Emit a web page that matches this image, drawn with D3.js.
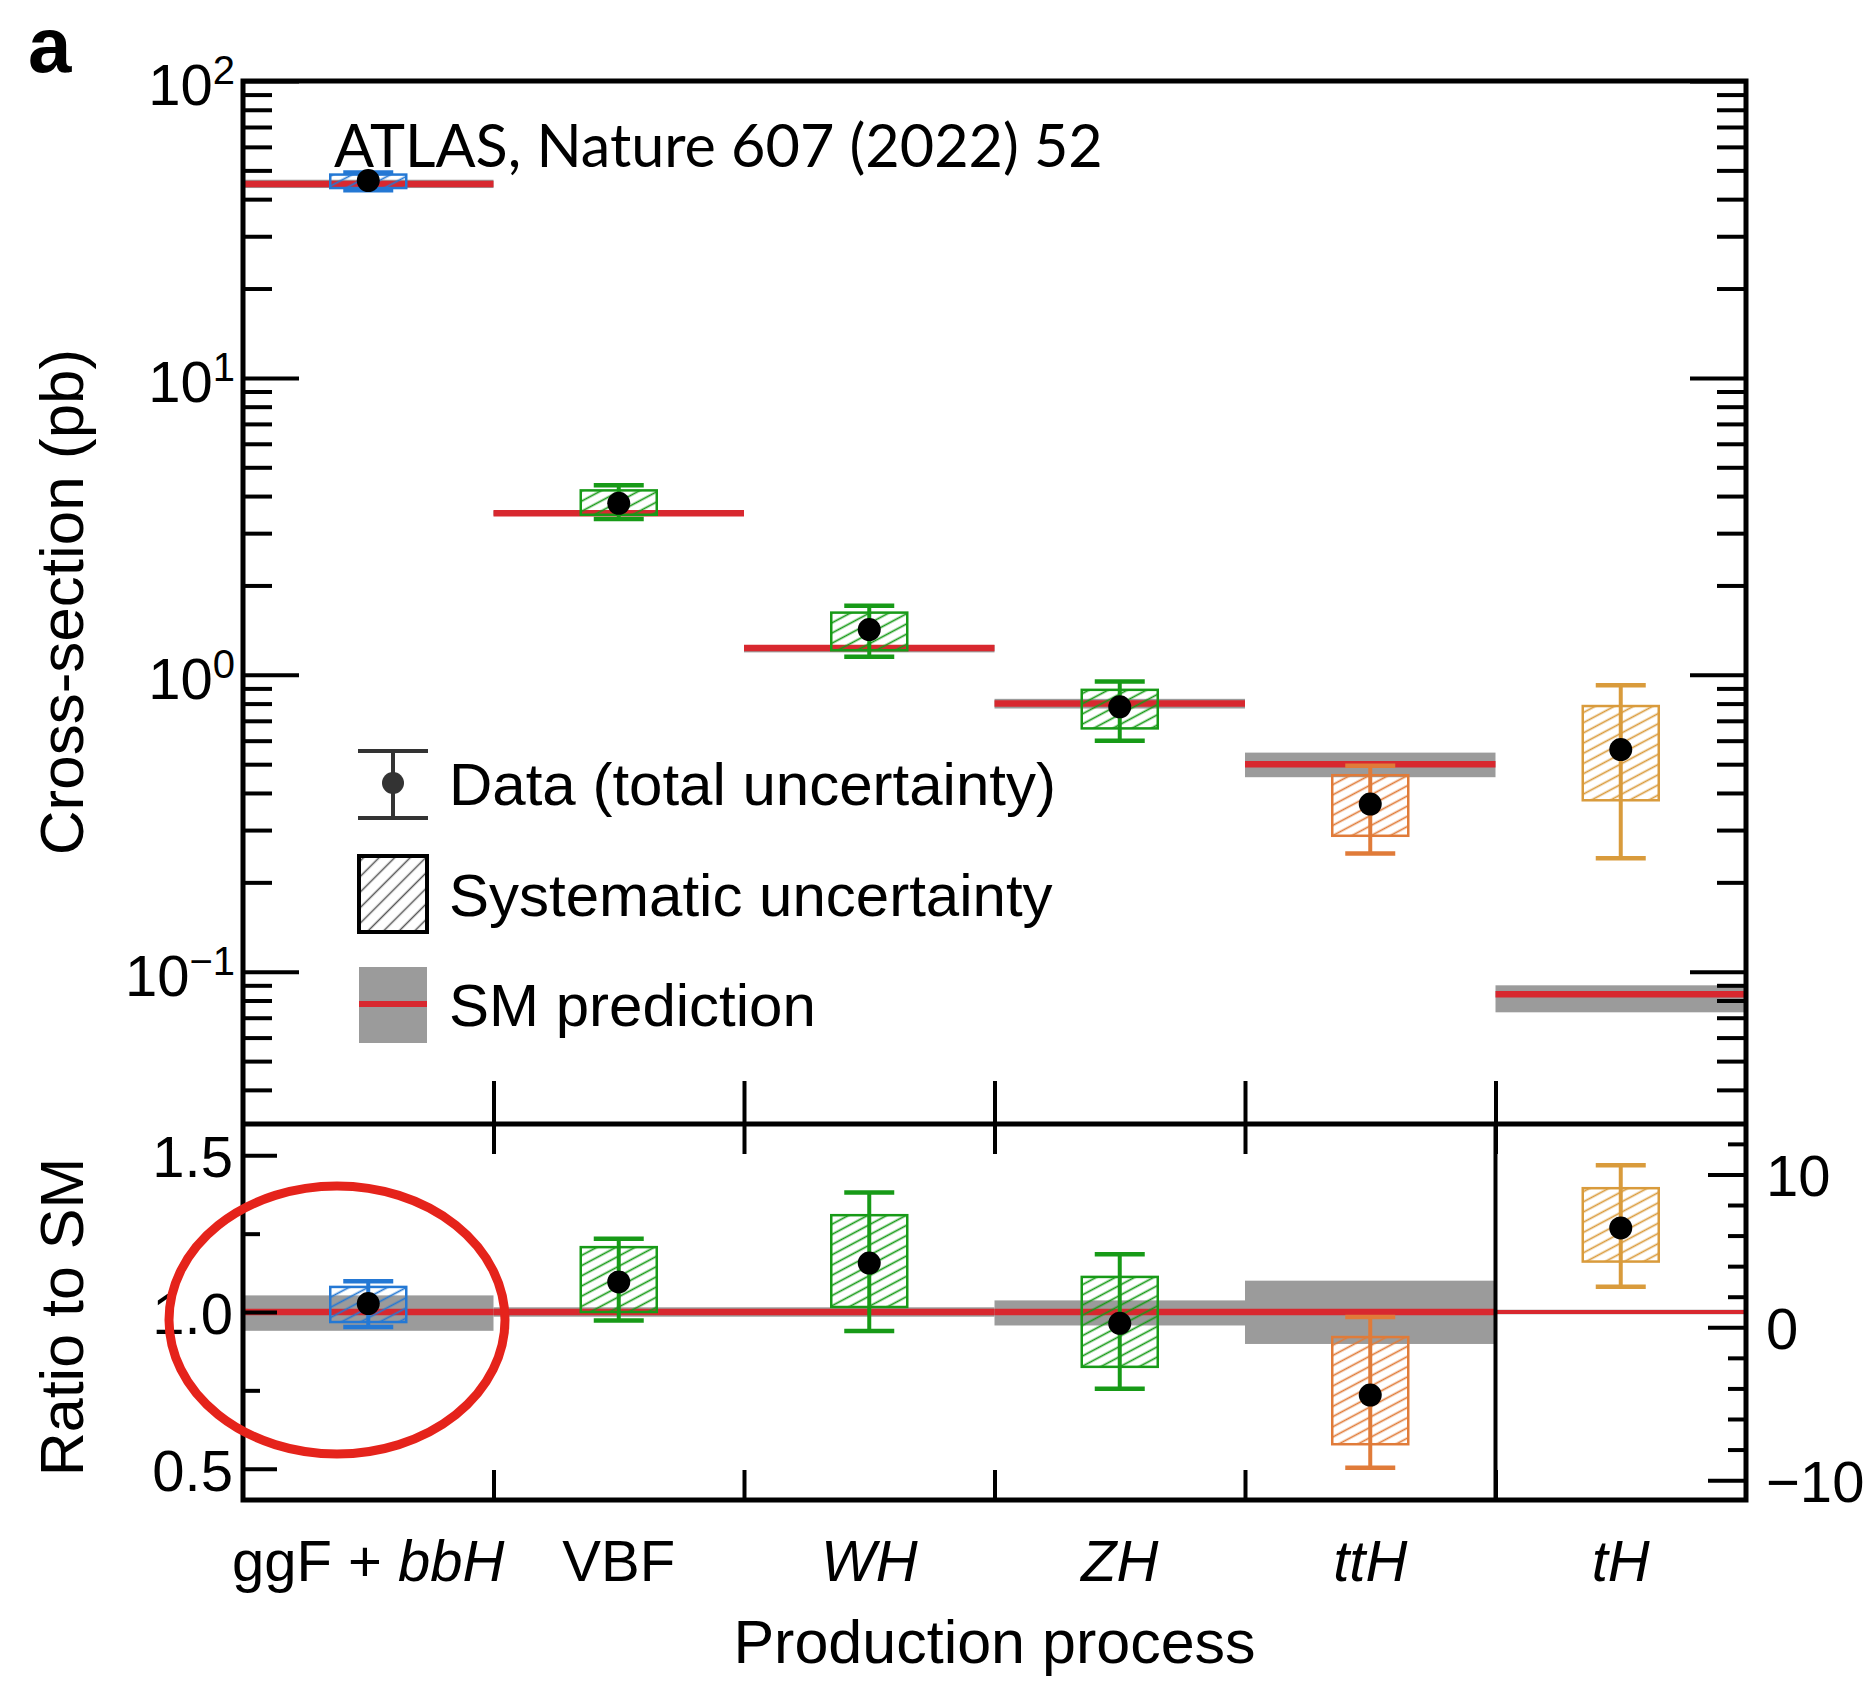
<!DOCTYPE html>
<html>
<head>
<meta charset="utf-8">
<script src="https://cdn.jsdelivr.net/npm/d3@7"></script>
<style>
  body { margin: 0; background: #fff; }
  svg { display: block; }
  text { font-family: "Liberation Sans", Arial, sans-serif; fill: #000; }
</style>
</head>
<body>
<div id="chart"></div>
<script>
// Data
const processes = ["ggF+bbH", "VBF", "WH", "ZH", "ttH", "tH"]
const processLabels = [
  [["ggF + ", false], ["bbH", true]],
  [["VBF", false]],
  [["WH", true]],
  [["ZH", true]],
  [["ttH", true]],
  [["tH", true]],
]
const processColors = ["#2478d4", "#179a17", "#179a17", "#179a17", "#e07b39", "#d99b3c"]

// upper panel, cross-section in pb
const xsec      = [46.2, 3.78, 1.42, 0.78, 0.367, 0.56]
const xsecSysLo = [43.6, 3.46, 1.21, 0.66, 0.287, 0.378]
const xsecSysHi = [48.4, 4.18, 1.62, 0.89, 0.459, 0.785]
const xsecTotLo = [42.9, 3.35, 1.15, 0.60, 0.250, 0.241]
const xsecTotHi = [49.2, 4.35, 1.71, 0.95, 0.494, 0.923]
const smXsec    = [45.0, 3.50, 1.23, 0.80, 0.500, 0.084]
const smXsecLo  = [43.6, 3.44, 1.19, 0.77, 0.452, 0.073]
const smXsecHi  = [46.5, 3.57, 1.26, 0.83, 0.547, 0.090]

// lower panel, ratio to SM (tH is read on the right-hand axis)
const ratio      = [1.027, 1.096, 1.156, 0.964, 0.735, 6.5]
const ratioSysLo = [0.968, 1.000, 1.016, 0.825, 0.578, 4.3]
const ratioSysHi = [1.080, 1.207, 1.309, 1.112, 0.920, 9.1]
const ratioTotLo = [0.952, 0.973, 0.939, 0.755, 0.503, 2.65]
const ratioTotHi = [1.098, 1.234, 1.381, 1.184, 0.984, 10.6]
const smRatio    = [1, 1, 1, 1, 1, 1]
const smRatioLo  = [0.940, 0.985, 0.985, 0.957, 0.898, 0.85]
const smRatioHi  = [1.053, 1.015, 1.015, 1.037, 1.100, 1.15]

// tick labels
const xsecMajorTicks = [100, 10, 1, 0.1]
const xsecExponents  = ["2", "1", "0", "\u22121"]
const ratioMajorTicks = [0.5, 1.0, 1.5]
const ratioMinorTicks = [0.75, 1.25]
const tHMajorTicks = [-10, 0, 10]
const tHMinorTicks = [-8, -6, -4, -2, 2, 4, 6, 8, 12]

const legendLabels = ["Data (total uncertainty)", "Systematic uncertainty", "SM prediction"]

// Dimensions
const dims = {
  width: 1869,
  height: 1682,
  left: 243,
  right: 1746,
  top: 81,
  split: 1124,
  bottom: 1500,
}

const svg = d3.select('#chart')
  .append('svg')
  .attr('width', dims.width)
  .attr('height', dims.height)

// Scales
const xScale = d3.scaleBand().domain(processes).range([dims.left, dims.right])
const xEdge = d3.scaleLinear().domain([0, processes.length]).range([dims.left, dims.right])
const yXsec = d3.scaleLog().domain([0.0307, 100]).range([dims.split, dims.top])
const yRatio = d3.scaleLinear().domain([0.4, 1.6]).range([dims.bottom, dims.split])
const yTH = d3.scaleLinear().domain([-11.3, 13.3]).range([dims.bottom, dims.split])
const yLow = (i, v) => i === 5 ? yTH(v) : yRatio(v)

const bw = xScale.bandwidth()
const cx = i => xScale(processes[i]) + bw / 2
const boxW = 76, capW = 50

// hatch patterns
const defs = svg.append('defs')
defs.selectAll('pattern.hatch')
  .data(processColors)
  .join('pattern')
  .attr('class', 'hatch')
  .attr('id', (d, i) => 'hatch' + i)
  .attr('patternUnits', 'userSpaceOnUse')
  .attr('width', 12).attr('height', 9)
  .attr('patternTransform', 'rotate(-28)')
  .append('line')
  .attr('x1', 0).attr('x2', 12).attr('y1', 4.5).attr('y2', 4.5)
  .attr('stroke', d => d).attr('stroke-width', 1.7)
defs.append('pattern')
  .attr('id', 'hatchLegend')
  .attr('patternUnits', 'userSpaceOnUse')
  .attr('width', 12).attr('height', 11)
  .attr('patternTransform', 'rotate(-45)')
  .append('line')
  .attr('x1', 0).attr('x2', 12).attr('y1', 5.5).attr('y2', 5.5)
  .attr('stroke', '#555').attr('stroke-width', 1.5)

const idx = d3.range(processes.length)

// SM bands and lines
const bands = svg.append('g')
bands.selectAll('rect.up').data(idx).join('rect')
  .attr('x', i => xScale(processes[i])).attr('width', bw)
  .attr('y', i => yXsec(smXsecHi[i]))
  .attr('height', i => yXsec(smXsecLo[i]) - yXsec(smXsecHi[i]))
  .attr('fill', '#9b9b9b')
bands.selectAll('rect.low').data(idx).join('rect')
  .attr('x', i => xScale(processes[i])).attr('width', bw)
  .attr('y', i => yLow(i, smRatioHi[i]))
  .attr('height', i => yLow(i, smRatioLo[i]) - yLow(i, smRatioHi[i]))
  .attr('fill', '#9b9b9b')
bands.selectAll('line.up').data(idx).join('line')
  .attr('x1', i => xScale(processes[i])).attr('x2', i => xScale(processes[i]) + bw)
  .attr('y1', i => yXsec(smXsec[i])).attr('y2', i => yXsec(smXsec[i]))
  .attr('stroke', '#d8282f').attr('stroke-width', 6.5)
bands.selectAll('line.low').data(idx).join('line')
  .attr('x1', i => xScale(processes[i])).attr('x2', i => xScale(processes[i]) + bw)
  .attr('y1', i => yLow(i, smRatio[i])).attr('y2', i => yLow(i, smRatio[i]))
  .attr('stroke', '#d8282f').attr('stroke-width', i => i === 5 ? 4 : 6.5)

// Axes (ticks only, frame drawn separately)
const styleAxis = g => {
  g.select('.domain').remove()
  g.selectAll('line').attr('stroke', '#000').attr('stroke-width', 4)
}
const addAxis = (axis, tx, ty) => svg.append('g')
  .attr('transform', `translate(${tx},${ty})`)
  .call(axis.tickFormat('').tickSizeOuter(0))
  .call(styleAxis)

const xsecMinor = yXsec.ticks().filter(v => !xsecMajorTicks.some(m => Math.abs(m - v) / m < 1e-6))
addAxis(d3.axisLeft(yXsec).tickValues(xsecMajorTicks).tickSizeInner(-56), dims.left, 0)
addAxis(d3.axisLeft(yXsec).tickValues(xsecMinor).tickSizeInner(-29), dims.left, 0)
addAxis(d3.axisRight(yXsec).tickValues(xsecMajorTicks).tickSizeInner(-56), dims.right, 0)
addAxis(d3.axisRight(yXsec).tickValues(xsecMinor).tickSizeInner(-29), dims.right, 0)

addAxis(d3.axisLeft(yRatio).tickValues(ratioMajorTicks).tickSizeInner(-34), dims.left, 0)
addAxis(d3.axisLeft(yRatio).tickValues(ratioMinorTicks).tickSizeInner(-17), dims.left, 0)
addAxis(d3.axisRight(yTH).tickValues(tHMajorTicks).tickSizeInner(-38), dims.right, 0)
addAxis(d3.axisRight(yTH).tickValues(tHMinorTicks).tickSizeInner(-18), dims.right, 0)

const edges = d3.range(1, processes.length)
addAxis(d3.axisTop(xEdge).tickValues(edges).tickSizeInner(43), 0, dims.split)
addAxis(d3.axisBottom(xEdge).tickValues(edges).tickSizeInner(30), 0, dims.split)
addAxis(d3.axisTop(xEdge).tickValues(edges).tickSizeInner(30), 0, dims.bottom)

// Measurements
const drawMeas = (yOf, val, sysLo, sysHi, totLo, totHi) => {
  const g = svg.append('g')
  g.selectAll('rect').data(idx).join('rect')
    .attr('x', i => cx(i) - boxW / 2).attr('width', boxW)
    .attr('y', i => yOf(i, sysHi[i]))
    .attr('height', i => yOf(i, sysLo[i]) - yOf(i, sysHi[i]))
    .attr('fill', (d, i) => `url(#hatch${i})`)
    .attr('stroke', i => processColors[i]).attr('stroke-width', 2.5)
  g.selectAll('line.bar').data(idx).join('line').attr('class', 'bar')
    .attr('x1', cx).attr('x2', cx)
    .attr('y1', i => yOf(i, totLo[i])).attr('y2', i => yOf(i, totHi[i]))
    .attr('stroke', i => processColors[i]).attr('stroke-width', 4)
  g.selectAll('line.capHi').data(idx).join('line').attr('class', 'capHi')
    .attr('x1', i => cx(i) - capW / 2).attr('x2', i => cx(i) + capW / 2)
    .attr('y1', i => yOf(i, totHi[i])).attr('y2', i => yOf(i, totHi[i]))
    .attr('stroke', i => processColors[i]).attr('stroke-width', 4.5)
  g.selectAll('line.capLo').data(idx).join('line').attr('class', 'capLo')
    .attr('x1', i => cx(i) - capW / 2).attr('x2', i => cx(i) + capW / 2)
    .attr('y1', i => yOf(i, totLo[i])).attr('y2', i => yOf(i, totLo[i]))
    .attr('stroke', i => processColors[i]).attr('stroke-width', 4.5)
  g.selectAll('circle').data(idx).join('circle')
    .attr('cx', cx).attr('cy', i => yOf(i, val[i])).attr('r', 11.5)
    .attr('fill', '#000')
}
drawMeas((i, v) => yXsec(v), xsec, xsecSysLo, xsecSysHi, xsecTotLo, xsecTotHi)
drawMeas(yLow, ratio, ratioSysLo, ratioSysHi, ratioTotLo, ratioTotHi)

// Frame
const frame = svg.append('g').attr('fill', 'none').attr('stroke', '#000')
frame.append('rect')
  .attr('x', dims.left).attr('y', dims.top)
  .attr('width', dims.right - dims.left).attr('height', dims.bottom - dims.top)
  .attr('stroke-width', 5)
frame.append('line')
  .attr('x1', dims.left).attr('x2', dims.right)
  .attr('y1', dims.split).attr('y2', dims.split)
  .attr('stroke-width', 5)
frame.append('line')
  .attr('x1', xEdge(5)).attr('x2', xEdge(5))
  .attr('y1', dims.split).attr('y2', dims.bottom)
  .attr('stroke-width', 4)

// Tick labels
const xsecLab = svg.append('g').selectAll('text').data(xsecMajorTicks).join('text')
  .attr('x', dims.left - 8).attr('y', d => yXsec(d) + 24)
  .attr('text-anchor', 'end').style('font-size', '58px')
xsecLab.append('tspan').text('10')
xsecLab.append('tspan').attr('dy', -21).style('font-size', '40px')
  .text((d, i) => xsecExponents[i])

svg.append('g').selectAll('text').data(ratioMajorTicks).join('text')
  .attr('x', dims.left - 10).attr('y', d => yRatio(d) + 22)
  .attr('text-anchor', 'end').style('font-size', '58px')
  .text(d3.format('.1f'))

svg.append('g').selectAll('text').data(tHMajorTicks).join('text')
  .attr('x', dims.right + 20).attr('y', d => yTH(d) + 22)
  .attr('text-anchor', 'start').style('font-size', '58px')
  .text(d3.format('d'))

// Category labels
const catLab = svg.append('g').selectAll('text').data(idx).join('text')
  .attr('x', cx).attr('y', 1581)
  .attr('text-anchor', 'middle').style('font-size', '58px')
catLab.selectAll('tspan').data(i => processLabels[i]).join('tspan')
  .style('font-style', d => d[1] ? 'italic' : 'normal')
  .text(d => d[0])

// Axis titles
svg.append('text')
  .attr('transform', 'translate(83,602) rotate(-90)')
  .attr('text-anchor', 'middle').style('font-size', '62px')
  .text('Cross-section (pb)')
svg.append('text')
  .attr('transform', 'translate(83,1317) rotate(-90)')
  .attr('text-anchor', 'middle').style('font-size', '61px')
  .text('Ratio to SM')
svg.append('text')
  .attr('x', (dims.left + dims.right) / 2).attr('y', 1663)
  .attr('text-anchor', 'middle').style('font-size', '61px')
  .text('Production process')

// Legend
const leg = svg.append('g')
const legX = 358, legW = 70
const legRows = [783, 894, 1004]
// data symbol
const ds = leg.append('g').attr('stroke', '#333').attr('stroke-width', 4)
ds.append('line').attr('x1', legX + legW / 2).attr('x2', legX + legW / 2).attr('y1', 751).attr('y2', 818)
ds.append('line').attr('x1', legX).attr('x2', legX + legW).attr('y1', 751).attr('y2', 751)
ds.append('line').attr('x1', legX).attr('x2', legX + legW).attr('y1', 818).attr('y2', 818)
leg.append('circle').attr('cx', legX + legW / 2).attr('cy', legRows[0]).attr('r', 11).attr('fill', '#333')
// systematic symbol
leg.append('rect').attr('x', legX + 1).attr('y', 856).attr('width', legW - 2).attr('height', 76)
  .attr('fill', 'url(#hatchLegend)').attr('stroke', '#000').attr('stroke-width', 4)
// SM symbol
leg.append('rect').attr('x', legX + 1).attr('y', 967).attr('width', legW - 2).attr('height', 76)
  .attr('fill', '#9b9b9b')
leg.append('line').attr('x1', legX + 1).attr('x2', legX + legW - 1)
  .attr('y1', legRows[2]).attr('y2', legRows[2])
  .attr('stroke', '#d8282f').attr('stroke-width', 6)
leg.selectAll('text').data(legendLabels).join('text')
  .attr('x', 449).attr('y', (d, i) => legRows[i] + 22)
  .style('font-size', '60px')
  .text(d => d)

// Panel letter and citation
svg.append('text').attr('x', 28).attr('y', 72)
  .style('font-size', '78px').style('font-weight', 'bold')
  .text('a')
const cite = svg.append('text').attr('x', 334).attr('y', 167)
  .style('font-family', 'Lato, "Open Sans", sans-serif').style('font-size', '62px')
  .text('ATLAS, Nature 607 (2022) 52')
const citeLen = cite.node().getComputedTextLength()
cite.style('font-size', (62 * 769 / citeLen) + 'px')

// Red circle annotation
svg.append('ellipse')
  .attr('cx', 337).attr('cy', 1320).attr('rx', 168).attr('ry', 134)
  .attr('fill', 'none').attr('stroke', '#e5231b').attr('stroke-width', 9)
</script>
</body>
</html>
